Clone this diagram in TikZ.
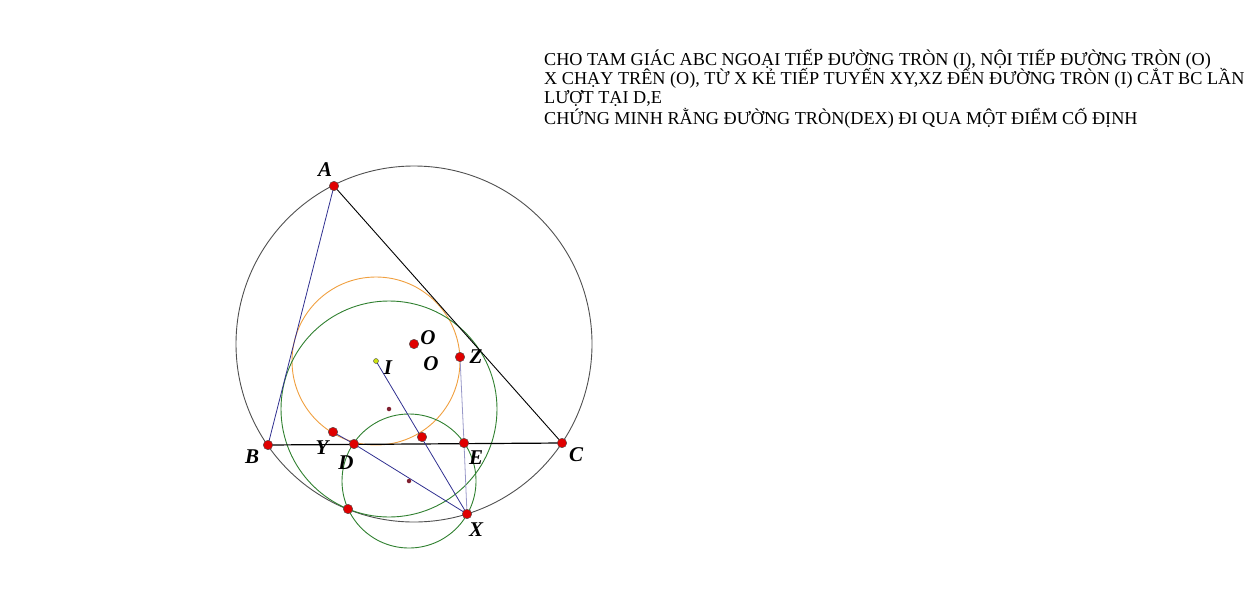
\documentclass[tikz,border=0pt]{standalone}
\usepackage{fontspec}
\setmainfont{Liberation Serif}
\usepackage{tikz}

\definecolor{ptred}{HTML}{E00000}
\definecolor{lineblue}{HTML}{303090}
\definecolor{lightblue}{HTML}{9898C8}
\definecolor{circgray}{HTML}{505050}
\definecolor{incirc}{HTML}{F0A040}
\definecolor{greencirc}{HTML}{308030}
\definecolor{dotred}{HTML}{802030}

\begin{document}
\begin{tikzpicture}
                        [
                            x=1pt, y=-1pt,
                            pt/.style={circle, fill=ptred, draw=black!70, line width=0.4pt, inner sep=0pt, minimum size=9.5pt},
                            smalldot/.style={circle, fill=dotred, inner sep=0pt, minimum size=4.5pt},
                            lbl/.style={font=\fontsize{21}{21}\selectfont\bfseries\itshape},
                            txt/.style={anchor=base west, inner sep=0pt, font=\fontsize{18.2}{20}\selectfont}
                        ]
                        \useasboundingbox (0,0) rectangle (1257,589);
                        % points
                        \coordinate (A) at (334,186);
                        \coordinate (B) at (268,445);
                        \coordinate (C) at (562,443);
                        \coordinate (O) at (414,344);
                        \coordinate (I) at (376,361);
                        \coordinate (Y) at (333,432);
                        \coordinate (D) at (354,444);
                        \coordinate (E) at (464,443);
                        \coordinate (Z) at (460,357);
                        \coordinate (X) at (467,514);
                        \coordinate (T) at (422,437);
                        \coordinate (P) at (348,509);
                        \coordinate (M) at (389,409);
                        \coordinate (N) at (409,481);
                        % circles
                        \draw[circgray, line width=0.9pt] (O) circle (178pt);
                        \draw[incirc, line width=0.9pt] (I) circle (84pt);
                        \draw[greencirc, line width=0.9pt] (M) circle (108pt);
                        \draw[greencirc, line width=0.9pt] (N) circle (67pt);
                        % sides and tangents
                        \draw[lineblue, line width=0.8pt] (A) -- (B);
                        \draw[black, line width=0.9pt] (A) -- (C);
                        \draw[black, line width=1.2pt] (B) -- (C);
                        \draw[lineblue, line width=0.8pt] (I) -- (X);
                        \draw[lineblue, line width=0.8pt] (Y) -- (D) -- (X);
                        \draw[lightblue, line width=0.8pt] (Z) -- (E) -- (X);
                        % dots
                        \foreach \p in {A,B,C,O,Y,D,E,Z,X,T,P} \node[pt] at (\p) {};
                        \node[circle, fill=yellow!80!green, draw=black!70, line width=0.4pt, inner sep=0pt, minimum size=5pt] at (I) {};
                        \node[smalldot] at (M) {};
                        \node[smalldot] at (N) {};
                        % labels
                        \node[lbl] (lA) at (325,170) {A};
                        \node[lbl] (lB) at (252,457) {B};
                        \node[lbl] (lC) at (576,455) {C};
                        \node[lbl] (lY) at (322,448) {Y};
                        \node[lbl] (lD) at (346,463) {D};
                        \node[lbl] (lE) at (476,458) {E};
                        \node[lbl] (lX) at (476,530) {X};
                        \node[lbl] (lZ) at (476,357) {Z};
                        \node[lbl] (lI) at (388,368) {I};
                        \node[lbl] (lO) at (428,338) {O};
                        \node[lbl] (lO2) at (431,364) {O};
                        % problem text
                        \node[txt] (t1) at (544,65) {CHO TAM GIÁC ABC NGOẠI TIẾP ĐƯỜNG TRÒN (I), NỘI TIẾP ĐƯỜNG TRÒN (O)};
                        \node[txt] (t2) at (544,84.5) {X CHẠY TRÊN (O), TỪ X KẺ TIẾP TUYẾN XY,XZ ĐẾN ĐƯỜNG TRÒN (I) CẮT BC LẦN};
                        \node[txt] (t3) at (544,103.5) {LƯỢT TẠI D,E};
                        \node[txt] (t4) at (544,124) {CHỨNG MINH RẰNG ĐƯỜNG TRÒN(DEX) ĐI QUA MỘT ĐIỂM CỐ ĐỊNH};
                        \end{tikzpicture}
\end{document}
